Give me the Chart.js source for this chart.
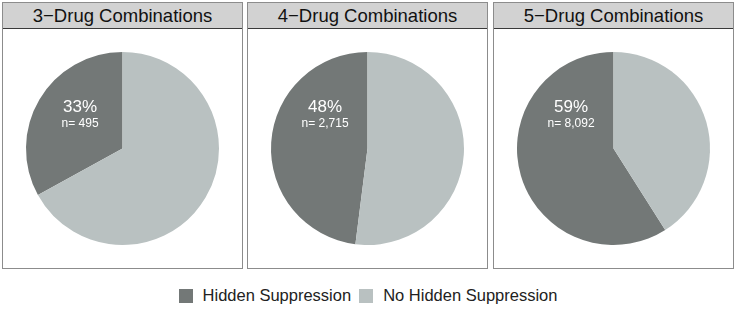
<!DOCTYPE html>
<html>
<head>
<meta charset="utf-8">
<script src="https://cdn.jsdelivr.net/npm/chart.js@4/dist/chart.umd.min.js"></script>
<style>
  body { margin: 0; background: #fff; font-family: "Liberation Sans", Arial, sans-serif; }
  #wrap { position: relative; width: 736px; height: 309px; }
  .panel { position: absolute; top: 2px; width: 241px; height: 267px; box-sizing: border-box;
           border: 1px solid #8c8c8c; background: #fff; }
  .head { height: 26px; box-sizing: border-box; background: #d2d2d2; border-bottom: 1px solid #3a3a3a;
          text-align: center; font-size: 18.5px; line-height: 26px; color: #111; }
  .panel canvas { display: block; }
  #legend { position: absolute; top: 286px; left: 0; width: 736px; display: flex; justify-content: center;
            font-size: 16.5px; color: #222; }
  #legend span { display: inline-flex; align-items: center; margin: 0 4px; }
  #legend i { display: inline-block; width: 14px; height: 14px; margin-right: 10px; }
</style>
</head>
<body>
<div id="wrap">
  <div class="panel" style="left:2px"><div class="head" id="h0"></div><canvas id="c0" width="239" height="239"></canvas></div>
  <div class="panel" style="left:247px"><div class="head" id="h1"></div><canvas id="c1" width="239" height="239"></canvas></div>
  <div class="panel" style="left:493px"><div class="head" id="h2"></div><canvas id="c2" width="239" height="239"></canvas></div>
  <div id="legend"></div>
</div>
<script>
const titles = ["3\u2212Drug Combinations", "4\u2212Drug Combinations", "5\u2212Drug Combinations"];
const hiddenPct = [33, 48, 59];
const hiddenN = ["495", "2,715", "8,092"];
const seriesLabels = ["Hidden Suppression", "No Hidden Suppression"];
const seriesColors = ["#737877", "#b9c1c1"];

// percentage + n drawn in the dark slice, up-left of centre
const sliceLabel = {
  id: "sliceLabel",
  afterDatasetsDraw(chart, args, opts) {
    const arc = chart.getDatasetMeta(0).data[0];
    const r = arc.outerRadius;
    const x = arc.x - 0.44 * r, y = arc.y - 0.43 * r;
    const ctx = chart.ctx;
    ctx.save();
    ctx.fillStyle = "#ffffff";
    ctx.textAlign = "center";
    ctx.textBaseline = "middle";
    ctx.font = '17px "Liberation Sans", Arial, sans-serif';
    ctx.fillText(opts.pct + "%", x, y);
    ctx.font = '12px "Liberation Sans", Arial, sans-serif';
    ctx.fillText("n= " + opts.n, x, y + 17);
    ctx.restore();
  }
};

titles.forEach((t, i) => {
  document.getElementById("h" + i).textContent = t;
  new Chart(document.getElementById("c" + i), {
    type: "pie",
    data: {
      labels: seriesLabels,
      datasets: [{
        data: [hiddenPct[i], 100 - hiddenPct[i]],
        backgroundColor: seriesColors,
        borderWidth: 0
      }]
    },
    options: {
      responsive: false,
      animation: false,
      rotation: -hiddenPct[i] * 3.6,
      layout: { padding: 23 },
      plugins: {
        legend: { display: false },
        tooltip: { enabled: false },
        sliceLabel: { pct: hiddenPct[i], n: hiddenN[i] }
      }
    },
    plugins: [sliceLabel]
  });
});

const legend = document.getElementById("legend");
seriesLabels.forEach((l, i) => {
  const s = document.createElement("span");
  s.innerHTML = '<i style="background:' + seriesColors[i] + '"></i>' + l;
  legend.appendChild(s);
});
</script>
</body>
</html>
